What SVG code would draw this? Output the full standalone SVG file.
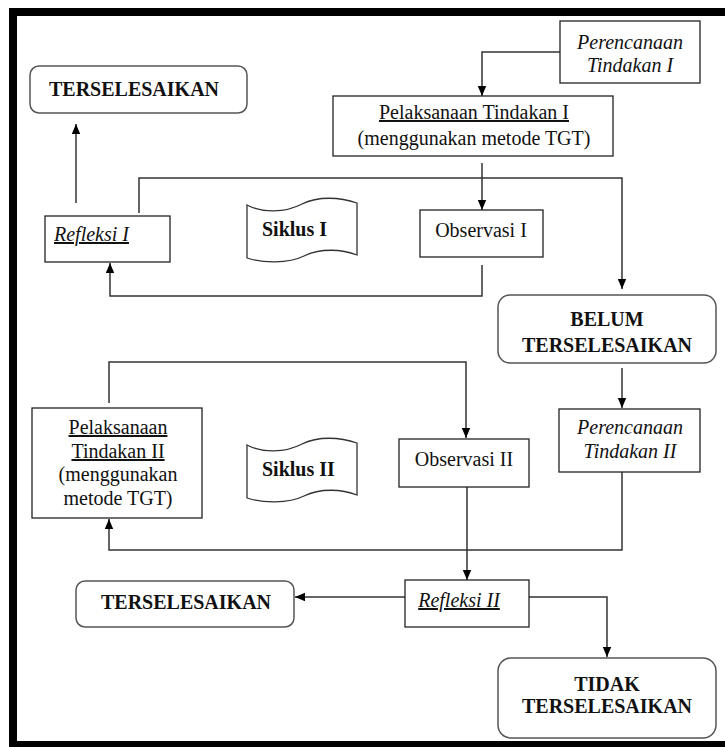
<svg xmlns="http://www.w3.org/2000/svg" width="725" height="747" viewBox="0 0 725 747">
<style>
text{font-family:"Liberation Serif","Times New Roman",serif;font-size:20px;fill:#111}
.b{font-weight:bold}
.i{font-style:italic}
.u{text-decoration:underline}
.m{text-anchor:middle}
.box{fill:#fff;stroke:#222;stroke-width:1.3}
.rbox{fill:#fff;stroke:#555;stroke-width:1.5}
.tape{fill:#fff;stroke:#333;stroke-width:1.3}
.conn{fill:none;stroke:#333;stroke-width:1.5}
.arr{marker-end:url(#ah)}
</style>
<defs>
<marker id="ah" markerUnits="userSpaceOnUse" markerWidth="10" markerHeight="10" refX="10" refY="5" orient="auto">
<path d="M0,0.8 L10,5 L0,9.2 z" fill="#000"/>
</marker>
</defs>
<rect x="0" y="0" width="725" height="747" fill="#fff"/>
<rect id="frame" x="13" y="12" width="740" height="733" fill="none" stroke="#000" stroke-width="8"/>

<g id="connectors">
<path class="conn arr" d="M560,52 H482 V96"/>
<path class="conn arr" d="M482,163 V210"/>
<path class="conn arr" d="M76,203 V124"/>
<path class="conn arr" d="M139,213 V178 H622 V289"/>
<path class="conn arr" d="M482,265 V296 H110 V263"/>
<path class="conn arr" d="M622,368 V408"/>
<path class="conn arr" d="M109,403 V362 H466 V438"/>
<path class="conn arr" d="M622,472 V550 H109 V519"/>
<path class="conn arr" d="M467,487 V580"/>
<path class="conn arr" d="M405,597 H295"/>
<path class="conn arr" d="M529,597 H607 V657"/>
</g>

<g id="perencanaan1">
<rect class="box" x="560" y="21" width="140" height="62"/>
<text class="i m" x="630" y="49">Perencanaan</text>
<text class="i m" x="630" y="72">Tindakan I</text>
</g>

<g id="terselesaikan1">
<rect class="rbox" x="30" y="66" width="217" height="47" rx="9"/>
<text class="b m" x="134" y="96">TERSELESAIKAN</text>
</g>

<g id="pelaksanaan1">
<rect class="box" x="333" y="96" width="280" height="60"/>
<text class="m u" x="474" y="119">Pelaksanaan Tindakan I</text>
<text class="m" x="474" y="145">(menggunakan metode TGT)</text>
</g>

<g id="refleksi1">
<rect class="box" x="45" y="216" width="125" height="46"/>
<text class="i u" x="54" y="241">Refleksi I</text>
</g>

<g id="siklus1">
<path class="tape" d="M247,205 C262,213 285,213 302,204 C318,196 340,197 357,203 L357,255 C342,249 320,248 304,256 C288,264 262,263 247,258 Z"/>
<text class="b" x="262" y="236">Siklus I</text>
</g>

<g id="observasi1">
<rect class="box" x="420" y="210" width="123" height="47"/>
<text class="m" x="481" y="237">Observasi I</text>
</g>

<g id="belum">
<rect class="rbox" x="498" y="295" width="218" height="68" rx="12"/>
<text class="b m" x="607" y="326">BELUM</text>
<text class="b m" x="607" y="352">TERSELESAIKAN</text>
</g>

<g id="pelaksanaan2">
<rect class="box" x="32" y="408" width="170" height="110"/>
<text class="m u" x="118" y="434">Pelaksanaan</text>
<text class="m u" x="118" y="458">Tindakan II</text>
<text class="m" x="118" y="481">(menggunakan</text>
<text class="m" x="118" y="505">metode TGT)</text>
</g>

<g id="siklus2">
<path class="tape" d="M247,445 C262,453 285,453 302,444 C318,436 340,437 357,443 L357,495 C342,489 320,488 304,496 C288,504 262,503 247,498 Z"/>
<text class="b" x="262" y="476">Siklus II</text>
</g>

<g id="observasi2">
<rect class="box" x="399" y="439" width="130" height="48"/>
<text class="m" x="464" y="466">Observasi II</text>
</g>

<g id="perencanaan2">
<rect class="box" x="559" y="409" width="141" height="63"/>
<text class="i m" x="630" y="434">Perencanaan</text>
<text class="i m" x="630" y="458">Tindakan II</text>
</g>

<g id="terselesaikan2">
<rect class="rbox" x="76" y="581" width="218" height="46" rx="9"/>
<text class="b m" x="186" y="609">TERSELESAIKAN</text>
</g>

<g id="refleksi2">
<rect class="box" x="405" y="580" width="124" height="47"/>
<text class="i u m" x="459" y="607">Refleksi II</text>
</g>

<g id="tidak">
<rect class="rbox" x="498" y="658" width="218" height="80" rx="13"/>
<text class="b m" x="607" y="691">TIDAK</text>
<text class="b m" x="607" y="713">TERSELESAIKAN</text>
</g>
</svg>
